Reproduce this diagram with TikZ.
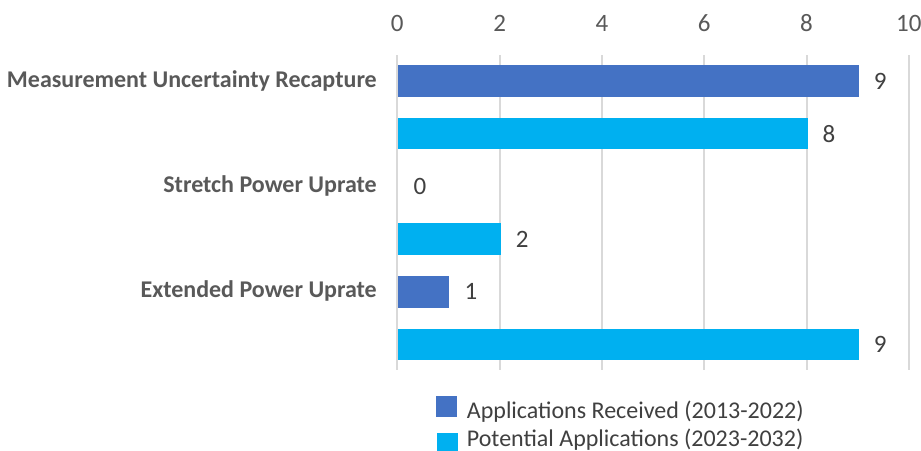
\documentclass[tikz,border=0pt]{standalone}
\usepackage{fontspec}
\setmainfont{Carlito}
\definecolor{recv}{HTML}{4472C4}
\definecolor{pot}{HTML}{00B0F0}
\definecolor{gridc}{HTML}{D9D9D9}
\definecolor{lblc}{HTML}{595959}
\definecolor{valc}{HTML}{404040}
\tikzset{
  gridline/.style={draw=gridc, line width=2pt},
  ticklbl/.style={text=lblc, font=\fontsize{25}{29}\selectfont, inner sep=0pt, anchor=base},
  catlbl/.style={text=lblc, font=\fontsize{24}{28}\selectfont\bfseries, inner sep=0pt, anchor=base east},
  barbox/.style={inner sep=0pt, outer sep=0pt, minimum height=31.7pt, anchor=west},
  vallbl/.style={text=valc, font=\fontsize{25}{29}\selectfont, inner sep=0pt, anchor=west},
  legsq/.style={inner sep=0pt, outer sep=0pt, minimum width=21pt, minimum height=21.3pt, anchor=north west},
  leglbl/.style={text=valc, font=\fontsize{24}{28}\selectfont, inner sep=0pt, anchor=base west}
}
\begin{document}
\begin{tikzpicture}[x=1pt,y=-1pt]
\useasboundingbox (0,0) rectangle (921,450);
\clip (0,0) rectangle (921,450);
\fill[white] (0,0) rectangle (921,450);
% grid and ticks
\foreach \i in {0,...,5}{
  \coordinate (gt\i) at ({397.3+102.3*\i},55);
  \coordinate (gb\i) at ({397.3+102.3*\i},370);
  \draw[gridline] (gt\i) -- (gb\i);
  \pgfmathtruncatemacro{\lab}{2*\i}
  \node[ticklbl] (tk\i) at ({397.3+102.3*\i},31.7) {\lab};
}
% bars
\node[barbox, fill=recv, minimum width={9*51.15pt}] (b1) at (398.3,80.9) {};
\node[barbox, fill=pot,  minimum width={8*51.15pt}] (b2) at (398.3,133.6) {};
\coordinate (b3) at (398.3,186.3);
\node[barbox, fill=pot,  minimum width={2*51.15pt}] (b4) at (398.3,239.0) {};
\node[barbox, fill=recv, minimum width={1*51.15pt}] (b5) at (398.3,291.7) {};
\node[barbox, fill=pot,  minimum width={9*51.15pt}] (b6) at (398.3,344.4) {};
% value labels
\node[vallbl] (v1) at ([xshift=15pt]b1.east) {9};
\node[vallbl] (v2) at ([xshift=15pt]b2.east) {8};
\node[vallbl] (v3) at ([xshift=15pt]b3) {0};
\node[vallbl] (v4) at ([xshift=15pt]b4.east) {2};
\node[vallbl] (v5) at ([xshift=15pt]b5.east) {1};
\node[vallbl] (v6) at ([xshift=15pt]b6.east) {9};
% category labels
\node[catlbl] (c1) at (377,87.2) {Measurement Uncertainty Recapture};
\node[catlbl] (c2) at (377,192.5) {Stretch Power Uprate};
\node[catlbl] (c3) at (377,297.4) {Extended Power Uprate};
% legend
\node[legsq, fill=recv] (l1) at (436,396) {};
\node[leglbl] (lt1) at (466.7,418.3) {Applications Received (2013-2022)};
\node[legsq, fill=pot] (l2) at (436.5,432.7) {};
\node[leglbl] (lt2) at (466.7,446.3) {Potential Applications (2023-2032)};
\end{tikzpicture}
\end{document}
